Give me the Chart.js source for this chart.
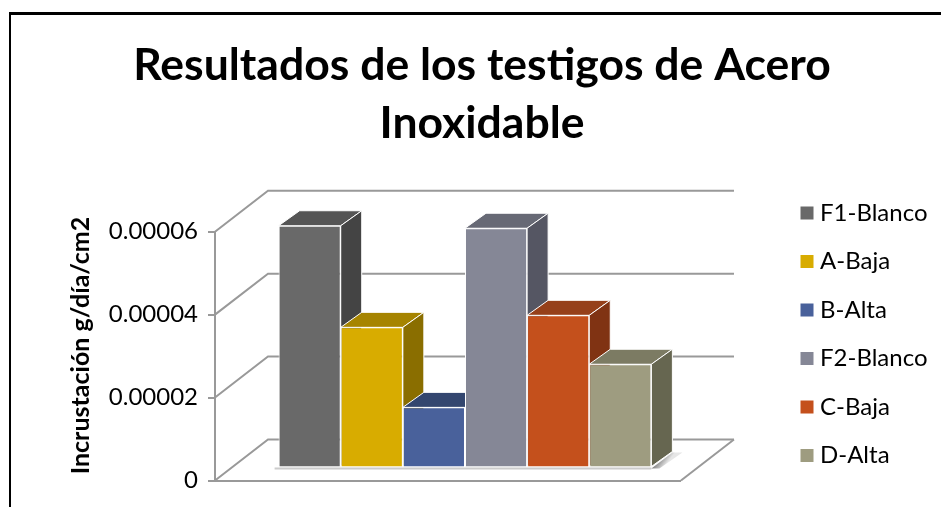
<!DOCTYPE html>
<html>
<head>
<meta charset="utf-8">
<script src="https://cdn.jsdelivr.net/npm/chart.js@4"></script>
<style>
  html, body { margin: 0; padding: 0; background: #fff; overflow: hidden; }
  #wrap { position: relative; width: 941px; height: 507px; overflow: hidden; }
  #frame { position: absolute; left: 9px; top: 12px; width: 960px; height: 520px; border-left: 2px solid #000; border-top: 3px solid #000; box-sizing: border-box; }
  canvas { position: absolute; left: 0; top: 0; }
</style>
</head>
<body>
<div id="wrap">
  <div id="frame"></div>
  <canvas id="resultsChart" width="941" height="507"></canvas>
</div>
<script>
// Values
const categories = ["Testigos"];
const seriesNames = ["F1-Blanco", "A-Baja", "B-Alta", "F2-Blanco", "C-Baja", "D-Alta"];
const seriesValues = [0.0000583, 0.0000338, 0.0000145, 0.0000577, 0.0000367, 0.0000249];
const tickLabels = ["0", "0.00002", "0.00004", "0.00006"];

const frontColors = ["#696969", "#d8ac00", "#49619b", "#858796", "#c4501c", "#9e9c80"];
const topColors = ["#555555", "#a68400", "#33466f", "#676975", "#96401a", "#7c7b63"];
const sideColors = ["#444444", "#8a6e00", "#2c3c60", "#555663", "#803313", "#666650"];

const font = "Lato, sans-serif";
const gridColor = "#999999";

// Fake 3D: wall depth, bar inset from the front, bar depth
const wall = { dx: 53, dy: -41 };
const inset = { dx: 17, dy: -13 };
const depth = { dx: 21, dy: -15 };

const plot3d = {
  id: "plot3d",
  afterLayout(chart) {
    // legend sits further right than the plot needs
    const leg = chart.legend;
    const w = leg.width, h = leg.height;
    leg.left = 781.5; leg.right = leg.left + w;
    leg.top = 176.5; leg.bottom = leg.top + h;
    // tick labels get clipped to the scale box otherwise
    chart.scales.y.left = 0;
  },
  beforeDatasetsDraw(chart) {
    const ctx = chart.ctx, a = chart.chartArea, y = chart.scales.y;
    ctx.save();
    ctx.strokeStyle = gridColor;
    ctx.lineWidth = 2;

    // side wall and back wall lines
    y.ticks.forEach(t => {
      const py = y.getPixelForValue(t.value);
      ctx.beginPath();
      ctx.moveTo(a.left, py);
      ctx.lineTo(a.left + wall.dx, py + wall.dy);
      ctx.lineTo(a.right + wall.dx, py + wall.dy);
      ctx.stroke();
    });
    // floor right edge
    ctx.beginPath();
    ctx.moveTo(a.right, a.bottom);
    ctx.lineTo(a.right + wall.dx, a.bottom + wall.dy);
    ctx.stroke();

    // y axis title
    ctx.save();
    ctx.translate(81, 345.5);
    ctx.rotate(-Math.PI / 2);
    ctx.fillStyle = "#000";
    ctx.font = "bold 25px " + font;
    ctx.textAlign = "center";
    ctx.textBaseline = "middle";
    ctx.fillText("Incrustación g/día/cm2", 0, 0);
    ctx.restore();

    ctx.restore();

    // everything from the bars on is moved back into the box
    ctx.save();
    ctx.translate(inset.dx, inset.dy);

    // shadow on the floor
    const bars = chart.getSortedVisibleDatasetMetas().map(m => m.data[0]);
    const xs = bars.map(b => b.x);
    const half = bars[0].width / 2;
    const x0 = Math.min(...xs) - half, x1 = Math.max(...xs) + half, b = a.bottom;
    ctx.strokeStyle = "#cccccc";
    ctx.lineWidth = 2;
    ctx.beginPath();
    ctx.moveTo(x0 - 4, b + 1);
    ctx.lineTo(x1, b + 1);
    ctx.stroke();
    const g = ctx.createLinearGradient(x1, b, x1 + 8, b + 6);
    g.addColorStop(0, "#777777");
    g.addColorStop(1, "#e6e6e6");
    ctx.fillStyle = g;
    ctx.beginPath();
    ctx.moveTo(x1, b + 1);
    ctx.lineTo(x1 + depth.dx, b + depth.dy);
    ctx.lineTo(x1 + depth.dx + 10, b + depth.dy);
    ctx.lineTo(x1 + 8, b + 1);
    ctx.closePath();
    ctx.fill();

    // tops and sides left to right; the library paints the fronts over them
    ctx.strokeStyle = "#ffffff";
    ctx.lineWidth = 1;
    ctx.lineJoin = "round";
    seriesNames.forEach((name, i) => {
      const bar = chart.getDatasetMeta(i).data[0];
      const l = bar.x - bar.width / 2, r = bar.x + bar.width / 2, t = bar.y, base = bar.base;
      ctx.fillStyle = topColors[i];
      ctx.beginPath();
      ctx.moveTo(l, t);
      ctx.lineTo(l + depth.dx, t + depth.dy);
      ctx.lineTo(r + depth.dx, t + depth.dy);
      ctx.lineTo(r, t);
      ctx.closePath();
      ctx.fill();
      ctx.stroke();
      ctx.fillStyle = sideColors[i];
      ctx.beginPath();
      ctx.moveTo(r, t);
      ctx.lineTo(r + depth.dx, t + depth.dy);
      ctx.lineTo(r + depth.dx, base + depth.dy);
      ctx.lineTo(r, base);
      ctx.closePath();
      ctx.fill();
      ctx.stroke();
    });
  },
  afterDatasetsDraw(chart) {
    chart.ctx.restore();
  }
};

const ctx = document.getElementById("resultsChart").getContext("2d");

new Chart(ctx, {
  type: "bar",
  data: {
    labels: categories,
    datasets: seriesNames.map((name, i) => ({
      label: name,
      data: [seriesValues[i]],
      backgroundColor: frontColors[i],
      borderColor: "#ffffff",
      borderWidth: 1,
      clip: false
    }))
  },
  plugins: [plot3d],
  options: {
    responsive: false,
    animation: false,
    categoryPercentage: 0.8,
    barPercentage: 1,
    layout: { padding: { left: 127, right: 104, top: 37, bottom: 18.5 } },
    plugins: {
      tooltip: { enabled: false },
      title: {
        display: true,
        text: ["Resultados de los testigos de Acero", "Inoxidable"],
        color: "#000",
        font: { family: font, size: 44.5, weight: "bold", lineHeight: 1.3 },
        padding: { top: 0, bottom: 79 }
      },
      legend: {
        position: "right",
        align: "start",
        labels: {
          color: "#000",
          font: { family: font, size: 24 },
          // narrow box width pulls the text closer to the square
          usePointStyle: true,
          pointStyle: "rect",
          boxWidth: 2,
          boxHeight: 14,
          padding: 24.5
        }
      }
    },
    scales: {
      x: {
        grid: { display: false },
        ticks: { display: false },
        border: { color: gridColor, width: 2 }
      },
      y: {
        min: 0,
        max: 0.00006,
        afterFit(s) { s.width = 88; },
        afterBuildTicks(s) { s.ticks = tickLabels.map(v => ({ value: Number(v) })); },
        ticks: {
          color: "#000",
          font: { family: font, size: 24 },
          padding: 10,
          callback(v, i) { return tickLabels[i]; }
        },
        grid: { drawOnChartArea: false, drawTicks: true, tickLength: 7, color: gridColor, lineWidth: 2 },
        border: { color: gridColor, width: 2 }
      }
    }
  }
});
</script>
</body>
</html>
